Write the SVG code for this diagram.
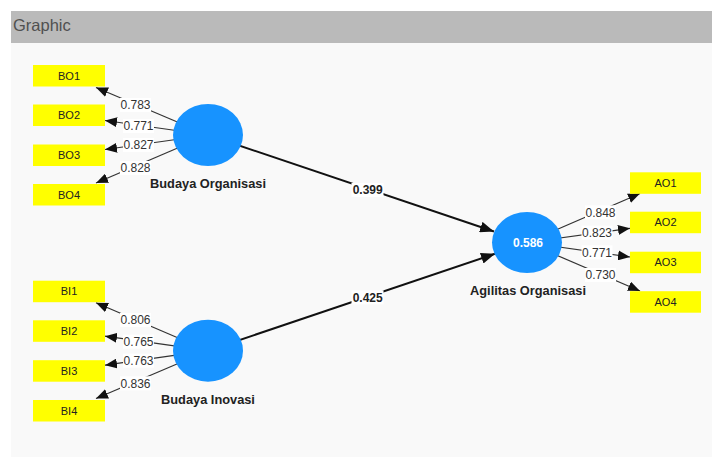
<svg xmlns="http://www.w3.org/2000/svg" width="712" height="458" viewBox="0 0 712 458">
<style>
.ind rect{fill:#ffff00}
.ind text{font-family:"Liberation Sans",Arial,sans-serif;font-size:11px;fill:#222;text-anchor:middle}
.lv ellipse{fill:#1793ff}
.lvl{font-family:"Liberation Sans",Arial,sans-serif;font-size:12.8px;font-weight:bold;fill:#222;text-anchor:middle}
.ld{stroke:#333;stroke-width:1.2;fill:none}
.st{stroke:#111;stroke-width:2;fill:none}
.lb rect{fill:#fff}
.lb text{font-family:"Liberation Sans",Arial,sans-serif;font-size:12px;fill:#333;text-anchor:middle}
.sl text{font-family:"Liberation Sans",Arial,sans-serif;font-size:12px;font-weight:bold;fill:#222;text-anchor:middle}
.sl rect{fill:#fff}
</style>
<defs>
<marker id="a" viewBox="0 0 12 10" refX="12" refY="5" markerWidth="12" markerHeight="10" markerUnits="userSpaceOnUse" orient="auto"><path d="M0,0 L12,5 L0,10 z" fill="#111"/></marker>
<marker id="b" viewBox="0 0 14 11" refX="14" refY="5.5" markerWidth="14" markerHeight="11" markerUnits="userSpaceOnUse" orient="auto"><path d="M0,0 L14,5.5 L0,11 z" fill="#111"/></marker>
</defs>
<rect x="0" y="0" width="712" height="458" fill="#ffffff"/>
<rect x="11" y="43" width="701" height="414" fill="#f9f9f9"/>
<rect x="11" y="11" width="701" height="32" fill="#bababa"/>
<text x="13" y="31" font-family="'Liberation Sans',Arial,sans-serif" font-size="16.5" fill="#505050">Graphic</text>

<g id="connectors">
  <line class="ld" x1="208" y1="135" x2="96" y2="87.5" marker-end="url(#a)"/>
  <line class="ld" x1="208" y1="135" x2="105" y2="120.5" marker-end="url(#a)"/>
  <line class="ld" x1="208" y1="135" x2="105" y2="149.5" marker-end="url(#a)"/>
  <line class="ld" x1="208" y1="135" x2="96" y2="183" marker-end="url(#a)"/>
  <line class="ld" x1="208" y1="350.7" x2="96" y2="302.8" marker-end="url(#a)"/>
  <line class="ld" x1="208" y1="350.7" x2="105" y2="336.2" marker-end="url(#a)"/>
  <line class="ld" x1="208" y1="350.7" x2="105" y2="365.2" marker-end="url(#a)"/>
  <line class="ld" x1="208" y1="350.7" x2="96" y2="398.5" marker-end="url(#a)"/>
  <line class="ld" x1="527" y1="242.5" x2="640" y2="193.5" marker-end="url(#a)"/>
  <line class="ld" x1="527" y1="242.5" x2="630" y2="228.3" marker-end="url(#a)"/>
  <line class="ld" x1="527" y1="242.5" x2="630" y2="257" marker-end="url(#a)"/>
  <line class="ld" x1="527" y1="242.5" x2="640" y2="291" marker-end="url(#a)"/>
  <line class="st" x1="208" y1="135" x2="494" y2="231.5" marker-end="url(#b)"/>
  <line class="st" x1="208" y1="350.7" x2="495" y2="253.8" marker-end="url(#b)"/>
  <g class="lb">
    <rect x="120" y="98" width="31" height="14"/><text x="135.5" y="109.3">0.783</text>
    <rect x="123" y="119" width="31" height="14"/><text x="138.5" y="130.3">0.771</text>
    <rect x="123" y="138" width="31" height="14"/><text x="138.5" y="149.3">0.827</text>
    <rect x="120" y="161" width="31" height="14"/><text x="135.5" y="172.3">0.828</text>
    <rect x="120" y="313" width="31" height="14"/><text x="135.5" y="324.3">0.806</text>
    <rect x="123" y="334.7" width="31" height="14"/><text x="138.5" y="346">0.765</text>
    <rect x="123" y="353.7" width="31" height="14"/><text x="138.5" y="365">0.763</text>
    <rect x="120" y="376.3" width="31" height="14"/><text x="135.5" y="387.6">0.836</text>
    <rect x="585" y="205.3" width="31" height="14"/><text x="600.5" y="216.6">0.848</text>
    <rect x="581.5" y="225.7" width="31" height="14"/><text x="597" y="237">0.823</text>
    <rect x="581.5" y="245.3" width="31" height="14"/><text x="597" y="256.6">0.771</text>
    <rect x="585" y="268" width="31" height="14"/><text x="600.5" y="279.3">0.730</text>
  </g>
  <g class="sl">
    <rect x="351.5" y="183" width="32" height="14"/><text x="367.7" y="194.3">0.399</text>
    <rect x="351.5" y="290.3" width="32" height="14"/><text x="367.7" y="301.6">0.425</text>
  </g>
</g>

<g id="BO1" class="ind"><rect x="33" y="65" width="72" height="21.5"/><text x="69" y="79.5">BO1</text></g>
<g id="BO2" class="ind"><rect x="33" y="104.5" width="72" height="21.5"/><text x="69" y="119">BO2</text></g>
<g id="BO3" class="ind"><rect x="33" y="144.5" width="72" height="21.5"/><text x="69" y="159">BO3</text></g>
<g id="BO4" class="ind"><rect x="33" y="184" width="72" height="21.5"/><text x="69" y="198.5">BO4</text></g>
<g id="BI1" class="ind"><rect x="33" y="280.7" width="72" height="21.5"/><text x="69" y="295.2">BI1</text></g>
<g id="BI2" class="ind"><rect x="33" y="320.3" width="72" height="21.5"/><text x="69" y="334.8">BI2</text></g>
<g id="BI3" class="ind"><rect x="33" y="360.2" width="72" height="21.5"/><text x="69" y="374.7">BI3</text></g>
<g id="BI4" class="ind"><rect x="33" y="400" width="72" height="21.5"/><text x="69" y="414.5">BI4</text></g>
<g id="AO1" class="ind"><rect x="630" y="172.3" width="71" height="21.5"/><text x="665.5" y="186.8">AO1</text></g>
<g id="AO2" class="ind"><rect x="630" y="211.7" width="71" height="21.5"/><text x="665.5" y="226.2">AO2</text></g>
<g id="AO3" class="ind"><rect x="630" y="251.7" width="71" height="21.5"/><text x="665.5" y="266.2">AO3</text></g>
<g id="AO4" class="ind"><rect x="630" y="291.2" width="71" height="21.5"/><text x="665.5" y="305.7">AO4</text></g>

<g id="BudayaOrganisasi" class="lv"><ellipse cx="208" cy="135" rx="35" ry="31"/><text class="lvl" x="208" y="188">Budaya Organisasi</text></g>
<g id="BudayaInovasi" class="lv"><ellipse cx="208" cy="350.7" rx="35" ry="31"/><text class="lvl" x="208" y="404">Budaya Inovasi</text></g>
<g id="AgilitasOrganisasi" class="lv"><ellipse cx="527" cy="242.5" rx="35" ry="30.5"/><text class="lvl" x="528" y="246.8" style="fill:#fff;font-size:12px">0.586</text><text class="lvl" x="528" y="295">Agilitas Organisasi</text></g>
</svg>
